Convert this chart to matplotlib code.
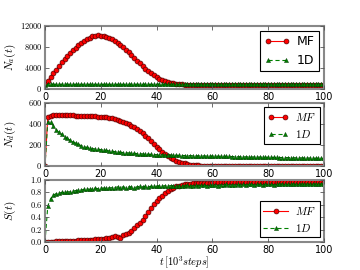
import matplotlib
matplotlib.use('Agg')
import matplotlib.pyplot as plt
from matplotlib.ticker import FuncFormatter

plt.style.use('classic')
plt.rcParams['mathtext.fontset'] = 'cm'
plt.rcParams['font.family'] = 'DejaVu Sans'

# time axis (10^3 steps)
t = list(range(101))

# active population N_a(t)
na_mf = [1000, 1600, 2300, 3000, 3700, 4400, 5100, 5700, 6300, 6900,
         7400, 7900, 8400, 8800, 9200, 9500, 9800, 10000, 10150, 10200,
         10150, 10050, 9900, 9700, 9450, 9150, 8800, 8400, 8000, 7500,
         7000, 6500, 6000, 5400, 4900, 4400, 3900, 3400, 3000, 2600,
         2250, 1950, 1700, 1500, 1350, 1200, 1100, 1000, 950, 900,
         870, 850, 840, 830, 820, 815, 810, 805, 800, 800,
         800, 800, 800, 800, 800, 800, 800, 800, 800, 800,
         800, 800, 800, 800, 800, 800, 800, 800, 800, 800,
         800, 800, 800, 800, 800, 800, 800, 800, 800, 800,
         800, 800, 800, 800, 800, 800, 800, 800, 800, 800,
         800]
na_1d = [700, 880, 900, 910, 900, 905, 910, 900, 905, 900,
         910, 905, 900, 900, 905, 910, 900, 905, 900, 900,
         905, 900, 910, 900, 905, 900, 900, 905, 900, 900,
         905, 900, 900, 905, 900, 900, 900, 905, 900, 900,
         900, 905, 900, 900, 900, 900, 905, 900, 900, 900,
         900, 900, 900, 905, 900, 900, 900, 900, 900, 905,
         900, 900, 900, 900, 900, 900, 905, 900, 900, 900,
         900, 900, 900, 900, 905, 900, 900, 900, 900, 900,
         900, 900, 905, 900, 900, 900, 900, 900, 900, 900,
         905, 900, 900, 900, 900, 900, 900, 905, 900, 900,
         900]

# N_d(t)
nd_mf = [0, 470, 480, 482, 483, 483, 483, 482, 482, 481,
         481, 480, 480, 479, 478, 477, 476, 474, 472, 470,
         468, 465, 462, 458, 453, 445, 438, 430, 420, 410,
         398, 384, 368, 350, 332, 312, 288, 262, 235, 208,
         182, 158, 136, 115, 96, 80, 65, 52, 41, 32,
         25, 19, 14, 11, 8, 6, 5, 4, 3, 2,
         2, 1, 1, 1, 1, 1, 0, 0, 0, 0,
         0, 0, 0, 0, 0, 0, 0, 0, 0, 0,
         0, 0, 0, 0, 0, 0, 0, 0, 0, 0,
         0, 0, 0, 0, 0, 0, 0, 0, 0, 0,
         0]
nd_1d = [0, 420, 415, 380, 345, 320, 300, 280, 262, 245,
         230, 218, 205, 194, 184, 177, 171, 166, 162, 159,
         156, 152, 148, 144, 140, 137, 134, 131, 128, 126,
         124, 122, 120, 118, 117, 115, 114, 112, 110, 109,
         108, 107, 106, 106, 105, 104, 103, 102, 101, 100,
         100, 99, 99, 98, 97, 97, 96, 96, 95, 95,
         94, 94, 93, 92, 92, 91, 91, 90, 90, 89,
         88, 88, 87, 87, 86, 86, 85, 85, 84, 84,
         83, 83, 82, 82, 81, 81, 80, 80, 79, 79,
         78, 78, 77, 77, 76, 76, 75, 74, 74, 73,
         72]

# S(t)
s_mf = [0.0, 0.0, 0.005, 0.005, 0.01, 0.01, 0.01, 0.015, 0.015, 0.02,
        0.02, 0.02, 0.025, 0.025, 0.03, 0.03, 0.035, 0.035, 0.04, 0.04,
        0.045, 0.05, 0.06, 0.07, 0.08, 0.09, 0.08, 0.07, 0.12, 0.13,
        0.15, 0.18, 0.23, 0.27, 0.31, 0.35, 0.42, 0.48, 0.55, 0.61,
        0.66, 0.71, 0.75, 0.79, 0.83, 0.86, 0.88, 0.90, 0.91, 0.92,
        0.93, 0.94, 0.94, 0.95, 0.95, 0.95, 0.96, 0.96, 0.96, 0.96,
        0.96, 0.97, 0.97, 0.97, 0.97, 0.97, 0.97, 0.97, 0.97, 0.97,
        0.97, 0.97, 0.97, 0.97, 0.97, 0.97, 0.97, 0.97, 0.97, 0.97,
        0.97, 0.97, 0.97, 0.97, 0.97, 0.97, 0.97, 0.97, 0.97, 0.97,
        0.97, 0.97, 0.97, 0.97, 0.97, 0.97, 0.97, 0.97, 0.97, 0.97,
        0.97]
s_1d = [0.0, 0.58, 0.70, 0.76, 0.78, 0.79, 0.80, 0.80, 0.81, 0.81,
        0.82, 0.83, 0.84, 0.84, 0.85, 0.86, 0.85, 0.86, 0.87, 0.86,
        0.87, 0.87, 0.88, 0.87, 0.88, 0.88, 0.89, 0.88, 0.89, 0.88,
        0.89, 0.89, 0.88, 0.89, 0.90, 0.89, 0.90, 0.89, 0.90, 0.90,
        0.90, 0.91, 0.90, 0.91, 0.90, 0.91, 0.91, 0.90, 0.91, 0.91,
        0.91, 0.92, 0.91, 0.91, 0.92, 0.91, 0.92, 0.92, 0.91, 0.92,
        0.92, 0.92, 0.91, 0.92, 0.92, 0.93, 0.92, 0.92, 0.92, 0.93,
        0.92, 0.93, 0.92, 0.93, 0.93, 0.92, 0.93, 0.93, 0.92, 0.93,
        0.93, 0.93, 0.92, 0.93, 0.93, 0.94, 0.93, 0.93, 0.93, 0.94,
        0.93, 0.93, 0.94, 0.93, 0.94, 0.93, 0.94, 0.94, 0.93, 0.94,
        0.94]

fig = plt.figure(figsize=(3.6, 2.7), dpi=100, facecolor='white')

spine_col = '#888888'
green = (0, 0.5, 0)
dash = (3, 2)


def style_axes(ax, yticks, fmt):
    for s in ax.spines.values():
        s.set_color(spine_col)
        s.set_linewidth(1.5)
    ax.tick_params(direction='in', length=3, width=0.6, color='#555555',
                   labelsize=7, top=True, right=True)
    ax.tick_params(axis='y', labelsize=6, pad=2)
    ax.tick_params(axis='x', pad=2)
    ax.set_xlim(0, 100)
    ax.set_xticks([0, 20, 40, 60, 80, 100])
    ax.set_yticks(yticks)
    ax.yaxis.set_major_formatter(FuncFormatter(lambda v, p: '$' + fmt % v + '$'))
    ax.yaxis.set_label_coords(-0.095, 0.5)
    ax.set_facecolor('white')


def add_legend(ax, loc, numpoints, hl, fs=8):
    leg = ax.legend(loc=loc, fontsize=fs, numpoints=numpoints, fancybox=False,
                    handlelength=hl, borderpad=0.35, labelspacing=0.45,
                    handletextpad=0.6, borderaxespad=0.4)
    leg.get_frame().set_linewidth(0.8)


# panel 1
ax1 = fig.add_axes([0.125, 0.670, 0.775, 0.234])
ax1.plot(t, na_mf, '-o', color='r', lw=0.8, ms=3.5, mew=0.5, mec='#550000', label='MF')
ax1.plot(t, na_1d, '--^', color=green, lw=0.8, ms=3, mew=0.3, mec='#003300',
         dashes=dash, label='1D')
ax1.set_ylim(0, 12000)
style_axes(ax1, [0, 4000, 8000, 12000], '%d')
ax1.set_ylabel(r'$N_a(t)$', fontsize=8)
add_legend(ax1, 'upper right', 2, 2.0, fs=9)

# panel 2
ax2 = fig.add_axes([0.125, 0.385, 0.775, 0.234])
ax2.plot(t, nd_mf, '-o', color='r', lw=0.8, ms=3.5, mew=0.5, mec='#550000', label=r'$MF$')
ax2.plot(t, nd_1d, '--^', color=green, lw=0.8, ms=3, mew=0.3, mec='#003300',
         dashes=dash, label=r'$1D$')
ax2.set_ylim(0, 600)
style_axes(ax2, [0, 200, 400, 600], '%d')
ax2.set_ylabel(r'$N_d(t)$', fontsize=8)
add_legend(ax2, 'upper right', 2, 1.8)

# panel 3
ax3 = fig.add_axes([0.125, 0.104, 0.775, 0.229])
ax3.plot(t, s_mf, '-o', color='r', lw=0.8, ms=3.5, mew=0.5, mec='#550000', label=r'$MF$')
ax3.plot(t, s_1d, '--^', color=green, lw=0.8, ms=3, mew=0.3, mec='#003300',
         dashes=dash, label=r'$1D$')
ax3.set_ylim(0, 1.0)
style_axes(ax3, [0, 0.2, 0.4, 0.6, 0.8, 1.0], '%.1f')
ax3.set_ylabel(r'$S(t)$', fontsize=8)
ax3.set_xlabel(r'$t\,[10^3 steps]$', fontsize=7.5, labelpad=0)
add_legend(ax3, 'lower right', 1, 2.2)

fig.savefig('out.png', dpi=100, facecolor='white')
